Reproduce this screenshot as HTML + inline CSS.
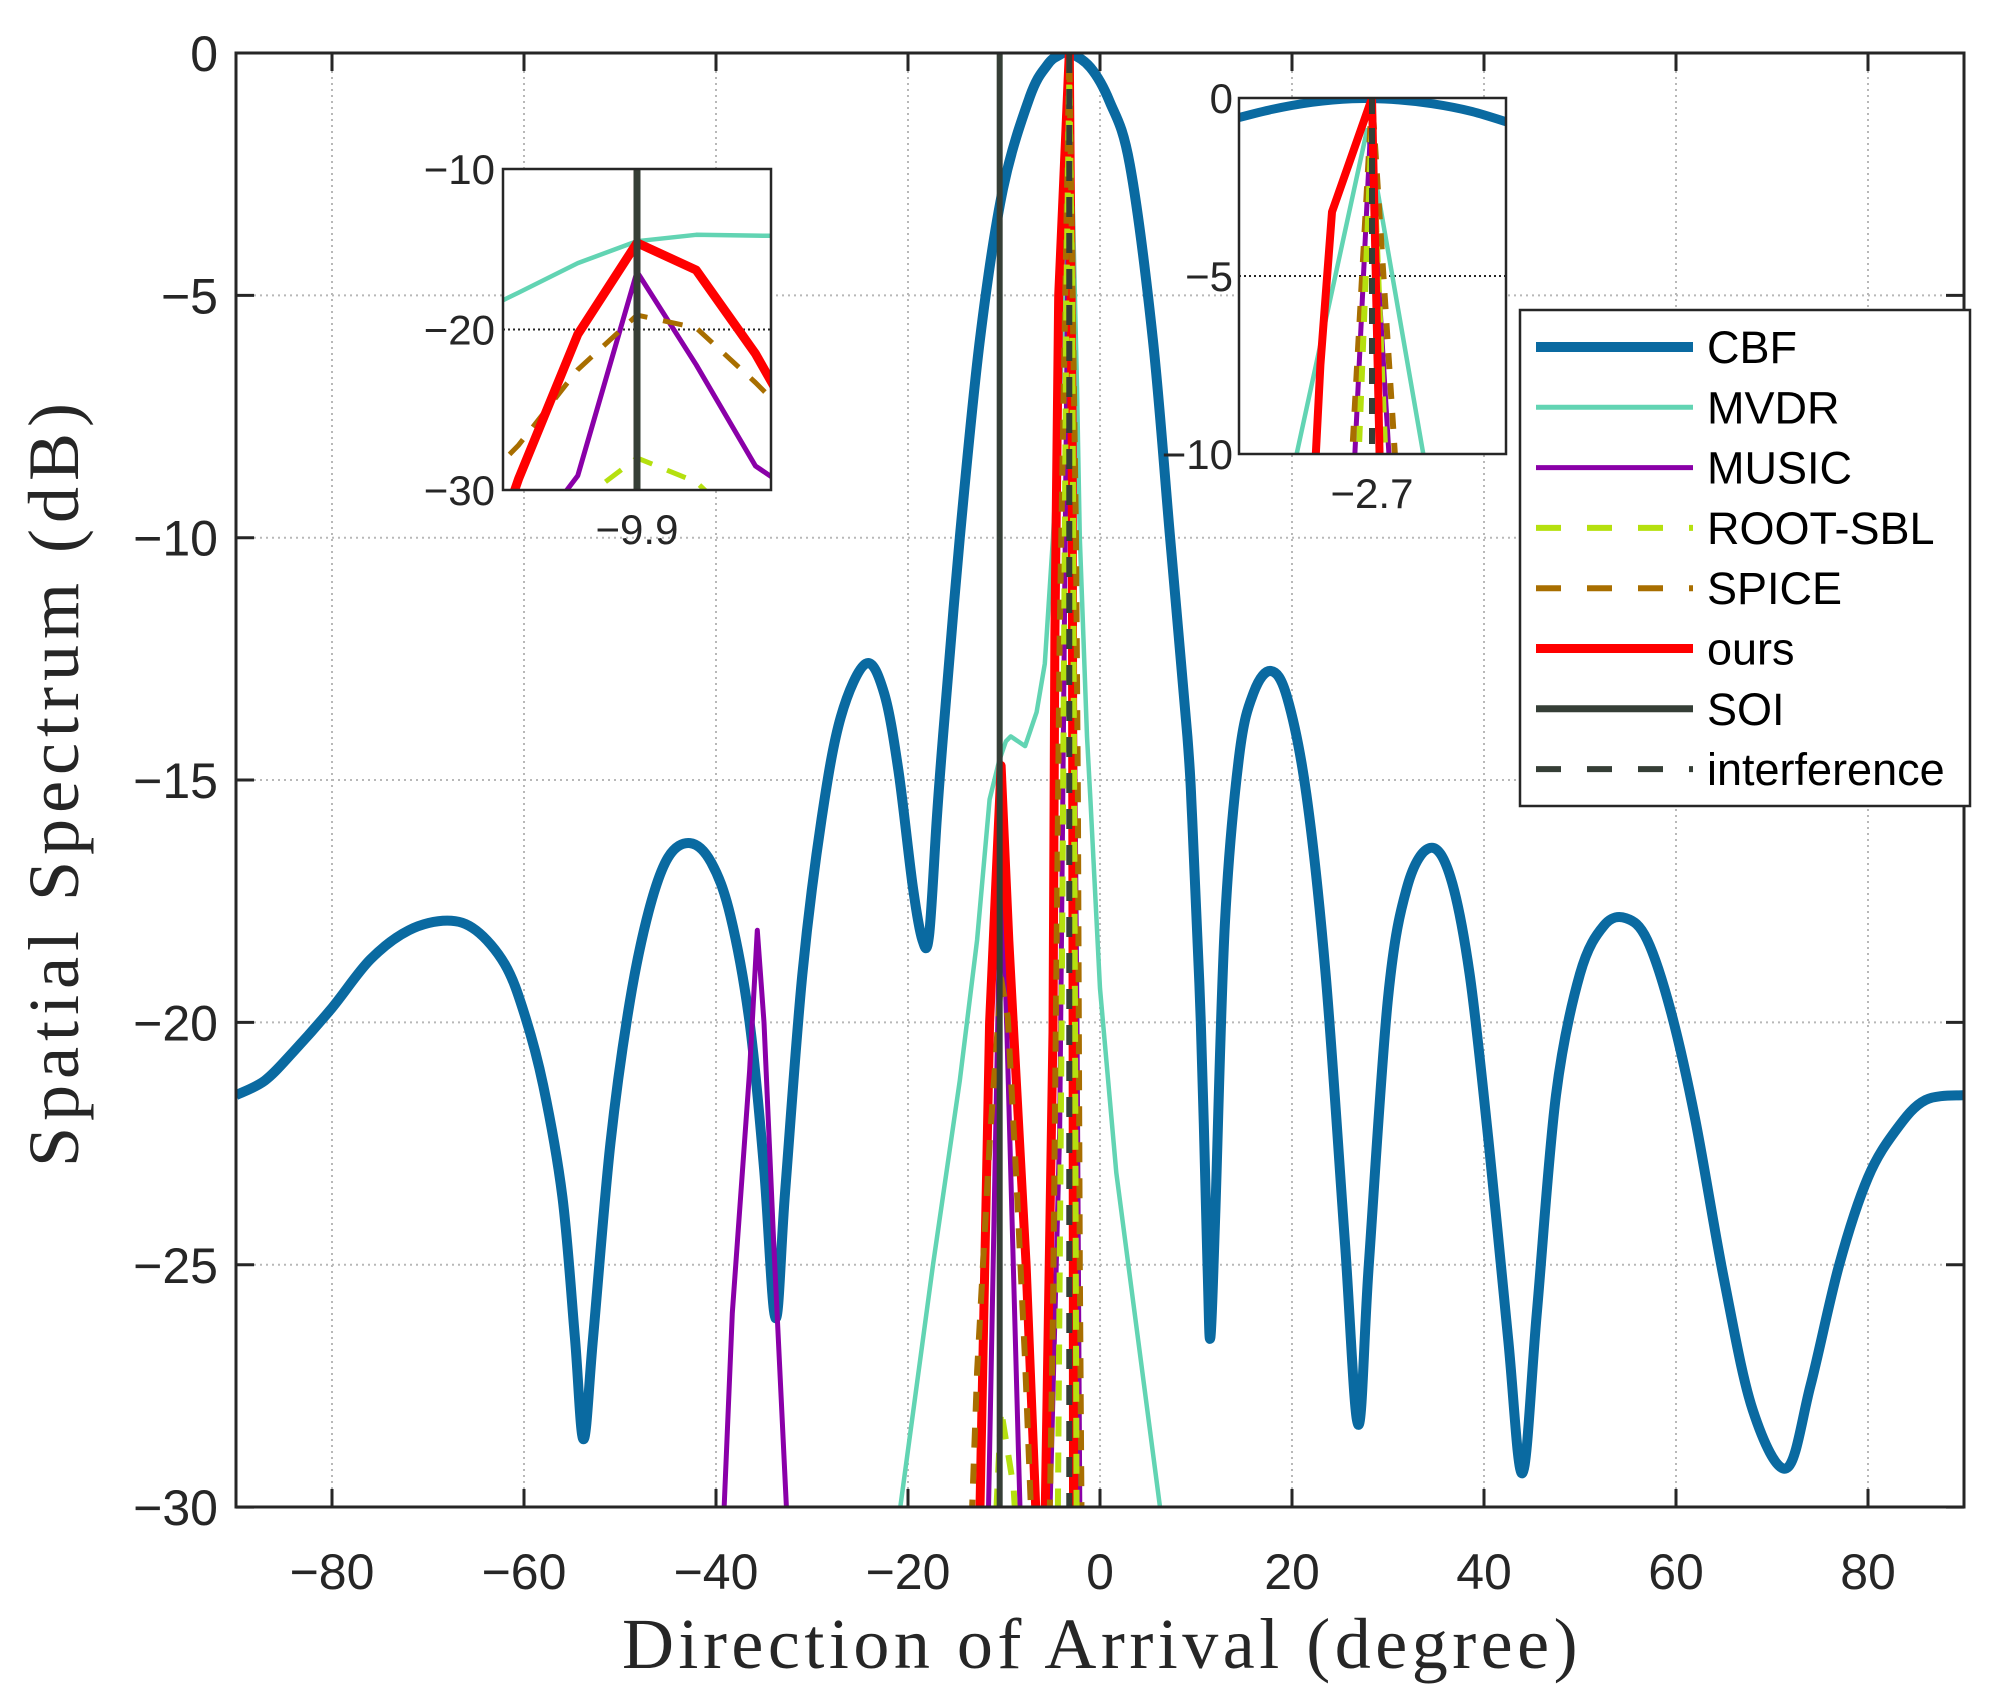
<!DOCTYPE html>
<html><head><meta charset="utf-8"><style>
html,body{margin:0;padding:0;background:#fff;overflow:hidden;width:1993px;height:1700px;position:relative}
svg{display:block;position:absolute;left:0;top:0}
text{font-family:"Liberation Sans",sans-serif;fill:#262626}
.serif{font-family:"Liberation Serif",serif;fill:#262626}
</style></head><body>
<svg id="chart" width="1993" height="1700" viewBox="0 0 1993 1700" xmlns="http://www.w3.org/2000/svg">
<defs>
<clipPath id="clipMain"><rect x="236" y="53" width="1728" height="1454"/></clipPath>
<clipPath id="clipIn1"><rect x="503" y="169" width="268" height="321"/></clipPath>
<clipPath id="clipIn2"><rect x="1239" y="98" width="267" height="356"/></clipPath>
</defs>
<rect x="0" y="0" width="1993" height="1700" fill="#fff"/>
<g id="grid"></g>
<g id="series" clip-path="url(#clipMain)"></g>
<g id="axes"></g>
<g id="inset1"></g>
<g id="inset2"></g>
<g id="legend"></g>
<text class="serif" x="1102" y="1668" font-size="72" letter-spacing="4.5" text-anchor="middle">Direction of Arrival (degree)</text>
<text class="serif" x="0" y="0" font-size="72" letter-spacing="6" text-anchor="middle" transform="translate(78,782) rotate(-90)">Spatial Spectrum (dB)</text>
</svg>
<script>
const xTicks=[-80,-60,-40,-20,0,20,40,60,80];
const yTicks=[0,-5,-10,-15,-20,-25,-30];
const cbfX=[-90,-87,-84,-80,-76,-72,-68,-65,-62,-60,-58,-56,-54.7,-53.8,-52.8,-51,-49,-47,-45,-42.7,-40.5,-38.5,-36.5,-35,-33.8,-32.8,-31,-29,-27,-24.4,-22.5,-21,-19.5,-18.5,-17.8,-17,-16.35,-14.6,-12.5,-10.1,-7.3,-5.5,-4.3,-3.2,-1,1,3.1,5.5,7.3,9.1,9.6,10.5,11.2,11.5,12,13,14.5,16,17.8,19.5,21.5,23.5,25.5,26.9,28,30,32,34.4,36.5,38.5,40.5,42.5,44,45.5,47.5,50,52.5,54.8,57,59.5,62,65,68,71.5,74,77,80,83,86,90];
const cbfY=[-21.5,-21.2,-20.6,-19.7,-18.7,-18.1,-17.9,-18.1,-18.8,-19.8,-21.3,-23.6,-26.5,-28.6,-26.5,-22.5,-19.6,-17.7,-16.6,-16.3,-16.7,-17.8,-20,-23,-26.1,-23.5,-19,-15.8,-13.7,-12.6,-13.2,-14.8,-17.2,-18.3,-18.2,-15.8,-14.1,-10,-5.9,-2.8,-0.9,-0.25,-0.05,0,-0.3,-1.0,-2.3,-5.9,-10,-14.1,-15.8,-20,-25,-26.5,-24,-18,-14.5,-13.2,-12.75,-13.3,-15.3,-19,-24.5,-28.3,-25,-19.5,-17.2,-16.4,-17,-19,-22.5,-26.5,-29.3,-26,-21.5,-19,-18,-17.85,-18.3,-19.8,-22,-25.3,-28,-29.2,-27.5,-25,-23.2,-22.2,-21.6,-21.5];
const mvdrX=[-22,-20.8,-17.4,-14.6,-12.8,-11.5,-10.5,-9.8,-9.3,-7.8,-6.6,-5.75,-4.9,-3.9,-3.2,-2.4,-2.1,-1.35,-1.0,0,1.7,6.25,7.5];
const mvdrY=[-33,-30,-25,-21.2,-18.3,-15.4,-14.6,-14.2,-14.1,-14.3,-13.6,-12.6,-10,-5.9,0,-6.9,-10,-14.1,-15.4,-19.3,-23.1,-30,-33];
const musicX=[-40,-38.3,-36.5,-35.7,-35,-34,-32.3,-20,-11.8,-10.3,-9.7,-8.2,-6,-5.2,-4.2,-3.2,-2.4,-2.1,-1.5];
const musicY=[-34,-26,-21,-18.1,-20,-24.5,-31.5,-45,-32,-16.4,-20.2,-31,-45,-30,-22.2,-1,-20,-30,-40];
const sblX=[-11.5,-10.3,-9.0,-8.0,null,-4.5,-4.0,-3.5,-3.2,-2.9,-2.6,-2.4];
const sblY=[-33,-28,-29.6,-33,null,-33,-20,-5,-0.5,-5,-20,-33];
const spiceX=[-13.5,-12.8,-11.5,-10.3,-9.6,-8.7,-7.8,-7,null,-5.3,-4.9,-4.2,-3.2,-2.5,-2.3,-2.1,-1.9];
const spiceY=[-31,-27.2,-22.5,-19.1,-19.9,-23.3,-27,-31,null,-31,-26,-12,0,-10,-15.4,-25,-31];
const oursX=[-13,-12.5,-11.5,-10.3,-9.5,-7.7,-6.7,-6.2,-5.7,-4.9,-4.7,-4.3,-3.2,-2.9,-2.8,-2.75];
const oursY=[-35,-30,-20,-14.7,-18.3,-25,-30,-32,-30,-20.2,-12,-5,0,-8,-20,-32];
const soiDoa=-10.45;
const interfDoa=-3.2;
const in1Ticks=[-10,-20,-30];
const in1X=[-3,-2,-1,0,1,2,3];
const in1Mvdr=[-19.5,-17.7,-15.86,-14.5,-14.1,-14.15,-14.2];
const in1Ours=[-40,-29.3,-20.3,-14.6,-16.3,-21.5,-28];
const in1Music=[-40,-34,-29.1,-16.4,-22.2,-28.5,-31];
const in1Spice=[-31,-27.2,-22.5,-19.1,-19.9,-23.3,-27];
const in1Sbl=[-36,-33,-30.8,-28.0,-29.5,-33,-36];
const in2Ticks=[0,-5,-10];
const in2CbfX=[-3.05,-2.95,-2.85,-2.75,-2.65,-2.55,-2.45,-2.35];
const in2CbfY=[-0.6,-0.32,-0.12,-0.02,-0.04,-0.16,-0.38,-0.72];
const in2MvdrX=[-2.9,-2.7125,-2.5625];
const in2MvdrY=[-10.6,-0.9,-10.6];
const in2OursX=[-2.845,-2.829,-2.8,-2.7,-2.68];
const in2OursY=[-11,-7.5,-3.2,0,-10.6];
const in2MusicX=[-2.745,-2.705,-2.655];
const in2MusicY=[-10.5,-1.2,-10.5];
const in2SpiceX=[-2.752,-2.7,-2.64];
const in2SpiceY=[-10.5,0,-10.5];
const in2SblX=[-2.735,-2.7,-2.665];
const in2SblY=[-10.5,-0.6,-10.5];
const legendNames=["CBF","MVDR","MUSIC","ROOT-SBL","SPICE","ours","SOI","interference"];

const NS="http://www.w3.org/2000/svg";
const C={cbf:"#0a6aa1",mvdr:"#62d4b3",music:"#8a00a8",sbl:"#b5e00f",spice:"#a86e00",ours:"#ff0000",soi:"#353e36"};
function mk(tag,attrs,parent){const e=document.createElementNS(NS,tag);for(const k in attrs)e.setAttribute(k,attrs[k]);parent.appendChild(e);return e;}
const X=d=>236+(d+90)*9.6, Y=v=>53-v*48.47;
function polyD(xs,ys,fx,fy){let d="",pen=false;for(let i=0;i<xs.length;i++){if(xs[i]===null){pen=false;continue;}d+=(pen?"L":"M")+fx(xs[i]).toFixed(1)+","+fy(ys[i]).toFixed(1);pen=true;}return d;}
function smoothD(xs,ys,fx,fy){const p=xs.map((x,i)=>[fx(x),fy(ys[i])]);let d="M"+p[0][0]+","+p[0][1];for(let i=0;i<p.length-1;i++){const p0=p[i-1]||p[i],p1=p[i],p2=p[i+1],p3=p[i+2]||p2;const c1=[p1[0]+(p2[0]-p0[0])/6,p1[1]+(p2[1]-p0[1])/6],c2=[p2[0]-(p3[0]-p1[0])/6,p2[1]-(p3[1]-p1[1])/6];d+="C"+c1.map(v=>v.toFixed(1))+" "+c2.map(v=>v.toFixed(1))+" "+p2[0].toFixed(1)+","+p2[1].toFixed(1);}return d;}
const grid=document.getElementById('grid'),series=document.getElementById('series'),axes=document.getElementById('axes');
xTicks.forEach(t=>{const g=mk('line',{x1:X(t),x2:X(t),y1:53,y2:1507,stroke:'#b8b8b8','stroke-width':2,'stroke-dasharray':'2 4'},grid);

});
yTicks.forEach(t=>{const g=mk('line',{x1:236,x2:1964,y1:Y(t),y2:Y(t),stroke:'#b8b8b8','stroke-width':2,'stroke-dasharray':'2 4'},grid);

});
function addPath(parent,d,color,w,dash,name){const p=mk('path',{d:d,fill:'none',stroke:color,'stroke-width':w,'stroke-linejoin':'round'},parent);if(dash)p.setAttribute('stroke-dasharray',dash);

return p;}
addPath(series,smoothD(cbfX,cbfY,X,Y),C.cbf,10,null,'cbf-line');
addPath(series,polyD(mvdrX,mvdrY,X,Y),C.mvdr,4.5,null,'mvdr-line');
addPath(series,polyD(musicX,musicY,X,Y),C.music,5,null,'music-line');
addPath(series,polyD(oursX,oursY,X,Y),C.ours,9,null,'ours-line');
addPath(series,polyD(spiceX,spiceY,X,Y),C.spice,6,'20 16','spice-line');
addPath(series,polyD(sblX,sblY,X,Y),C.sbl,6,'20 16','root-sbl-line');
addPath(series,`M${X(soiDoa)},53L${X(soiDoa)},1507`,C.soi,6,null,'soi-line');
addPath(series,`M${X(interfDoa)},53L${X(interfDoa)},1507`,C.soi,6,'20 16','interference-line');
const box=mk('rect',{x:236,y:53,width:1728,height:1454,fill:'none',stroke:'#262626','stroke-width':3},axes);


xTicks.forEach(t=>{mk('line',{x1:X(t),x2:X(t),y1:1507,y2:1489,stroke:'#262626','stroke-width':3},axes);mk('line',{x1:X(t),x2:X(t),y1:53,y2:71,stroke:'#262626','stroke-width':3},axes);
const tx=mk('text',{x:X(t),y:1589,'font-size':50,'text-anchor':'middle'},axes);tx.textContent=(t<0?'\u2212':'')+Math.abs(t);

});
yTicks.forEach(t=>{mk('line',{x1:236,x2:254,y1:Y(t),y2:Y(t),stroke:'#262626','stroke-width':3},axes);mk('line',{x1:1964,x2:1946,y1:Y(t),y2:Y(t),stroke:'#262626','stroke-width':3},axes);
const tx=mk('text',{x:218,y:Y(t)+18,'font-size':50,'text-anchor':'end'},axes);tx.textContent=(t<0?'\u2212':'')+Math.abs(t);

});
(function(){const g=document.getElementById('inset1');const L=503,R=771,T=169,B=490;
const ix=s=>637+s*59.2, iy=v=>T+(-10-v)*(B-T)/20;
mk('rect',{x:L,y:T,width:R-L,height:B-T,fill:'#fff'},g);
mk('line',{x1:L,x2:R,y1:iy(-20),y2:iy(-20),stroke:'#262626','stroke-width':2,'stroke-dasharray':'2 3'},g);
const c=mk('g',{'clip-path':'url(#clipIn1)'},g);
addPath(c,polyD(in1X,in1Mvdr,ix,iy),C.mvdr,4.5,null,'inset1-mvdr-line');
addPath(c,polyD(in1X,in1Music,ix,iy),C.music,5,null,'inset1-music-line');
addPath(c,polyD(in1X,in1Spice,ix,iy),C.spice,5,'20 16','inset1-spice-line');
addPath(c,polyD(in1X,in1Sbl,ix,iy),C.sbl,5,'20 16','inset1-root-sbl-line');
addPath(c,polyD(in1X,in1Ours,ix,iy),C.ours,9,null,'inset1-ours-line');
addPath(c,`M637,${T}L637,${B}`,C.soi,7,null,'inset1-soi-line');
const b=mk('rect',{x:L,y:T,width:R-L,height:B-T,fill:'none',stroke:'#262626','stroke-width':2.5},g);


in1Ticks.forEach(t=>{const tx=mk('text',{x:L-8,y:iy(t)+15,'font-size':42,'text-anchor':'end'},g);tx.textContent='\u2212'+Math.abs(t);

});
const tx=mk('text',{x:637,y:544,'font-size':42,'text-anchor':'middle'},g);tx.textContent='\u22129.9';

})();
(function(){const g=document.getElementById('inset2');const L=1239,R=1506,T=98,B=454;
const ix=d=>1372+(d+2.7)*400, iy=v=>T-v*(B-T)/10;
mk('rect',{x:L,y:T,width:R-L,height:B-T,fill:'#fff'},g);
mk('line',{x1:L,x2:R,y1:iy(-5),y2:iy(-5),stroke:'#262626','stroke-width':2,'stroke-dasharray':'2 3'},g);
const c=mk('g',{'clip-path':'url(#clipIn2)'},g);
addPath(c,smoothD(in2CbfX,in2CbfY,ix,iy),C.cbf,9,null,'inset2-cbf-line');
addPath(c,polyD(in2MvdrX,in2MvdrY,ix,iy),C.mvdr,4.5,null,'inset2-mvdr-line');
addPath(c,polyD(in2MusicX,in2MusicY,ix,iy),C.music,5,null,'inset2-music-line');
addPath(c,polyD(in2SpiceX,in2SpiceY,ix,iy),C.spice,6,'16 14','inset2-spice-line');
addPath(c,polyD(in2SblX,in2SblY,ix,iy),C.sbl,6,'16 14','inset2-root-sbl-line');
addPath(c,polyD(in2OursX,in2OursY,ix,iy),C.ours,8,null,'inset2-ours-line');
addPath(c,`M1372,${T}L1372,${B}`,C.soi,6,'16 14','inset2-interference-line');
const b=mk('rect',{x:L,y:T,width:R-L,height:B-T,fill:'none',stroke:'#262626','stroke-width':2.5},g);


in2Ticks.forEach(t=>{const tx=mk('text',{x:L-6,y:iy(t)+15,'font-size':42,'text-anchor':'end'},g);tx.textContent=(t<0?'\u2212':'')+Math.abs(t);

});
const tx=mk('text',{x:1372,y:508,'font-size':42,'text-anchor':'middle'},g);tx.textContent='\u22122.7';

})();
(function(){const g=document.getElementById('legend');
const bg=mk('rect',{x:1520,y:310,width:450,height:496,fill:'#fff',stroke:'#262626','stroke-width':2.5},g);


const styles=[[C.cbf,10,null],[C.mvdr,5,null],[C.music,5,null],[C.sbl,6,'25 26'],[C.spice,6,'25 26'],[C.ours,9,null],[C.soi,7,null],[C.soi,6,'25 26']];
legendNames.forEach((n,i)=>{const cy=347+i*60.3;
const e=mk('g',{},g);


const l=mk('line',{x1:1536,x2:1693,y1:cy,y2:cy,stroke:styles[i][0],'stroke-width':styles[i][1]},e);if(styles[i][2])l.setAttribute('stroke-dasharray',styles[i][2]);
const t=mk('text',{x:1707,y:cy+16,'font-size':45},e);t.textContent=n;t.style.fill='#000';});})();
</script>
</body></html>
